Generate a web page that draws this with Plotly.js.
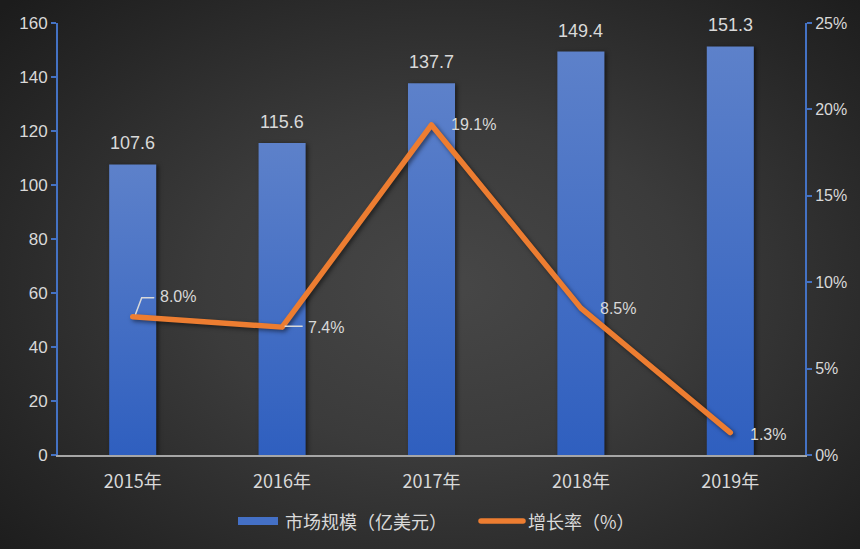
<!DOCTYPE html>
<html>
<head>
<meta charset="utf-8">
<script src="https://cdn.plot.ly/plotly-3.0.1.min.js"></script>
<style>
  html, body { margin: 0; padding: 0; }
  body { width: 860px; height: 549px; overflow: hidden;
    background: radial-gradient(ellipse 70% 75% at 52% 52%, #474747 0%, #3b3b3b 40%, #262626 80%, #1c1c1c 100%); }
  #chart { width: 860px; height: 549px; }
  .barlayer path { filter: drop-shadow(2px 1px 2px rgba(0,0,0,0.55)); }
  .scatterlayer .js-line { filter: drop-shadow(2px 2px 2px rgba(0,0,0,0.5)); }
</style>
</head>
<body>
<div id="chart"></div>
<script>
const categories = ['2015年', '2016年', '2017年', '2018年', '2019年'];
const marketSize = [107.6, 115.6, 137.7, 149.4, 151.3];   // 市场规模（亿美元）
const growthRate = [8.0, 7.4, 19.1, 8.5, 1.3];            // 增长率（%）
const leftTicks = [0, 20, 40, 60, 80, 100, 120, 140, 160];
const rightTicks = [0, 5, 10, 15, 20, 25];
const seriesNames = ['市场规模（亿美元）', '增长率（%）'];

const NUM = 'Liberation Sans, Arial, sans-serif';
const CJK = 'Noto Sans CJK SC, Liberation Sans, sans-serif';
const TXT = '#d9d9d9';
const BLUE = '#4472c4';
const ORANGE = '#ed7d31';

const barTrace = {
  type: 'bar', x: categories, y: marketSize, name: seriesNames[0],
  marker: { color: '#4a72c6' }, width: 0.315, hoverinfo: 'x+y'
};
const lineTrace = {
  type: 'scatter', mode: 'lines', x: categories, y: growthRate, yaxis: 'y2',
  name: seriesNames[1], line: { color: ORANGE, width: 5.5 }, hoverinfo: 'x+y'
};

const annotations = [];
categories.forEach((c, i) => {
  annotations.push({
    x: c, y: marketSize[i], xref: 'x', yref: 'y', text: marketSize[i].toFixed(1),
    showarrow: false, yanchor: 'bottom', yshift: 9,
    font: { family: NUM, size: 18, color: TXT }
  });
});
const lblOff = [[25, 20], [24, 0], [17, 0], [17, 0], [18, -2]];
categories.forEach((c, i) => {
  annotations.push({
    x: c, y: growthRate[i], xref: 'x', yref: 'y2', text: growthRate[i].toFixed(1) + '%',
    showarrow: false, xanchor: 'left', yanchor: 'middle',
    xshift: lblOff[i][0], yshift: lblOff[i][1],
    font: { family: NUM, size: 16, color: TXT }
  });
});

// fake legend labels
const legY = -0.153;
const px = v => (v - 58) / 747;
annotations.push({ x: px(283), y: legY, xref: 'paper', yref: 'paper', text: seriesNames[0],
  showarrow: false, xanchor: 'left', yanchor: 'middle', font: { family: CJK, size: 18, color: TXT } });
annotations.push({ x: px(526), y: legY, xref: 'paper', yref: 'paper', text: seriesNames[1],
  showarrow: false, xanchor: 'left', yanchor: 'middle', font: { family: CJK, size: 18, color: TXT } });

const shapes = [
  // leader lines
  { type: 'path', xref: 'x', yref: 'y2', xsizemode: 'pixel', ysizemode: 'pixel',
    xanchor: categories[0], yanchor: growthRate[0], path: 'M3,3 L9,19 L21,19',
    line: { color: TXT, width: 1.5 } },
  { type: 'path', xref: 'x', yref: 'y2', xsizemode: 'pixel', ysizemode: 'pixel',
    xanchor: categories[1], yanchor: growthRate[1], path: 'M3,1 L20,1',
    line: { color: TXT, width: 1.5 } },
  // legend symbols
  { type: 'rect', xref: 'paper', yref: 'paper', x0: px(238), x1: px(278),
    y0: legY - 4 / 432, y1: legY + 4 / 432, fillcolor: '#4470c6', line: { width: 0 } },
  { type: 'line', xref: 'paper', yref: 'paper', x0: px(481), x1: px(523),
    y0: legY, y1: legY, line: { color: ORANGE, width: 5.5 } }
];

const layout = {
  width: 860, height: 549,
  margin: { l: 58, r: 55, t: 23, b: 94 },
  paper_bgcolor: 'rgba(0,0,0,0)', plot_bgcolor: 'rgba(0,0,0,0)',
  showlegend: false, bargap: 0.685,
  font: { family: NUM, color: TXT },
  xaxis: {
    type: 'category', range: [-0.5, 4.5], showgrid: false, zeroline: false,
    showline: true, linecolor: '#a6a6a6', linewidth: 2,
    ticks: 'outside', ticklen: 9, tickcolor: 'rgba(0,0,0,0)',
    tickfont: { family: CJK, size: 18, color: TXT }
  },
  yaxis: {
    range: [0, 160], tickmode: 'array', tickvals: leftTicks, showgrid: false, zeroline: false,
    showline: true, linecolor: BLUE, linewidth: 2,
    ticks: 'outside', ticklen: 5, tickwidth: 2, tickcolor: BLUE,
    tickfont: { family: NUM, size: 17, color: TXT }
  },
  yaxis2: {
    overlaying: 'y', side: 'right', range: [0, 25], tickmode: 'array',
    tickvals: rightTicks, ticktext: rightTicks.map(v => v + '%'),
    showgrid: false, zeroline: false,
    showline: true, linecolor: BLUE, linewidth: 2,
    ticks: 'outside', ticklen: 5, tickwidth: 2, tickcolor: BLUE,
    tickfont: { family: NUM, size: 16, color: TXT }
  },
  annotations: annotations, shapes: shapes
};

Plotly.newPlot('chart', [barTrace, lineTrace], layout, { displayModeBar: false, staticPlot: true }).then(gd => {
  const svg = gd.querySelector('svg.main-svg');
  const NS = 'http://www.w3.org/2000/svg';
  let defs = svg.querySelector('defs');
  if (!defs) { defs = document.createElementNS(NS, 'defs'); svg.insertBefore(defs, svg.firstChild); }
  const grad = document.createElementNS(NS, 'linearGradient');
  grad.setAttribute('id', 'barGrad');
  grad.setAttribute('x1', '0'); grad.setAttribute('y1', '0');
  grad.setAttribute('x2', '0'); grad.setAttribute('y2', '1');
  [['0', '#5d81ca'], ['1', '#2f5fbf']].forEach(([o, c]) => {
    const s = document.createElementNS(NS, 'stop');
    s.setAttribute('offset', o); s.setAttribute('stop-color', c);
    grad.appendChild(s);
  });
  defs.appendChild(grad);
  gd.querySelectorAll('.barlayer .point path').forEach(p => { p.style.fill = 'url(#barGrad)'; });
  gd.querySelectorAll('.scatterlayer .js-line').forEach(p => {
    p.style.strokeLinecap = 'round'; p.style.strokeLinejoin = 'round';
  });
  gd.querySelectorAll('.shapelayer path').forEach(p => { p.style.strokeLinecap = 'round'; });
});
</script>
</body>
</html>
